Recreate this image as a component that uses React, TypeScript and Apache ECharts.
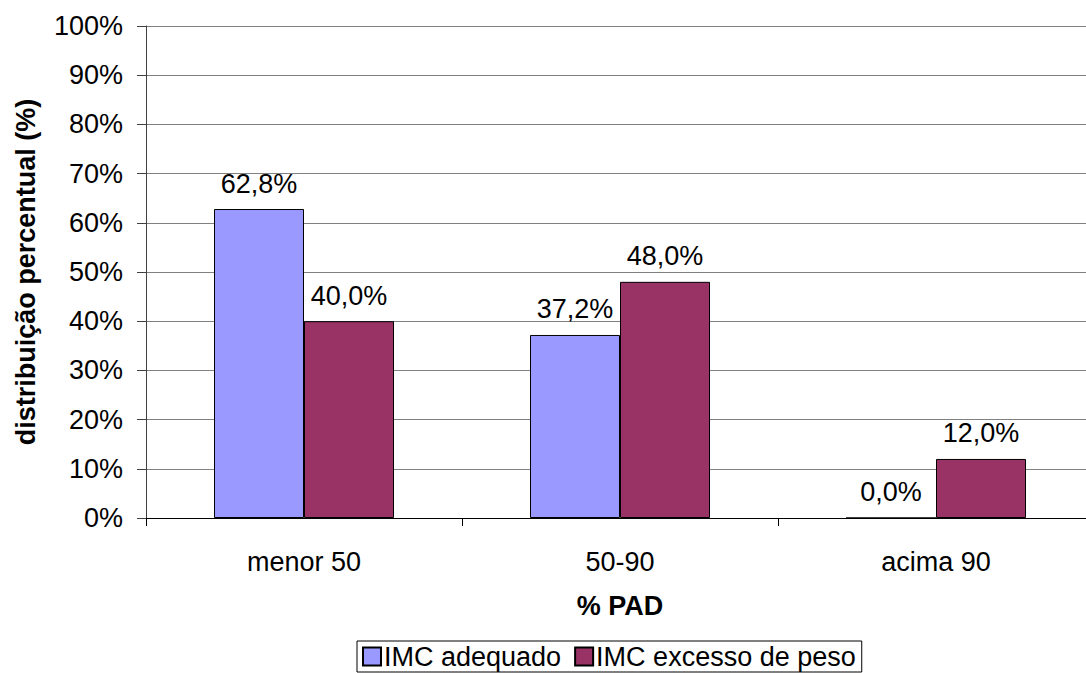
import React, { useEffect, useRef } from "react";
import * as echarts from "echarts";

const categories = ["menor 50", "50-90", "acima 90"];
const imcAdequado = [62.8, 37.2, 0.0];
const imcExcesso = [40.0, 48.0, 12.0];
const yTicks = { min: 0, max: 100, interval: 10 };
const seriesNames = ["IMC adequado", "IMC excesso de peso"];
const xTitle = "% PAD";
const yTitle = "distribuição percentual (%)";

const FONT = "Arial, 'Liberation Sans', sans-serif";

export default function App() {
  const ref = useRef<HTMLDivElement>(null);
  useEffect(() => {
    if (!ref.current) return;
    const chart = echarts.init(ref.current, undefined, { renderer: "svg" });
    const fmt = (p: any) => Number(p.value).toFixed(1).replace(".", ",") + "%";
    const label = {
      show: true,
      position: "top",
      distance: 12,
      formatter: fmt,
      fontSize: 27,
      fontFamily: FONT,
      color: "#000",
    };
    chart.setOption({
      animation: false,
      backgroundColor: "#fff",
      textStyle: { fontFamily: FONT },
      grid: { left: 146, right: 0, top: 26, bottom: 155, containLabel: false },
      legend: {
        left: 357,
        top: 641,
        padding: [2, 6, 2, 5],
        itemWidth: 18,
        itemHeight: 18,
        itemGap: 13,
        borderColor: "#000",
        borderWidth: 1,
        icon: "rect",
        textStyle: { fontSize: 27, fontFamily: FONT, color: "#000", padding: [0, 0, 0, -2] },
        data: seriesNames,
      },
      xAxis: {
        type: "category",
        data: categories,
        name: xTitle,
        nameLocation: "middle",
        nameGap: 74,
        nameTextStyle: { fontSize: 27, fontWeight: "bold", fontFamily: FONT, color: "#000" },
        axisLine: { show: true, lineStyle: { color: "#000", width: 1 } },
        axisTick: { show: true, length: 8, alignWithLabel: false, lineStyle: { color: "#000" } },
        axisLabel: { fontSize: 27, fontFamily: FONT, color: "#000", margin: 30 },
        splitLine: { show: false },
      },
      yAxis: {
        type: "value",
        min: yTicks.min,
        max: yTicks.max,
        interval: yTicks.interval,
        name: yTitle,
        nameLocation: "middle",
        nameGap: 107,
        nameRotate: 90,
        nameTextStyle: { fontSize: 27, fontWeight: "bold", fontFamily: FONT, color: "#000" },
        axisLine: { show: true, lineStyle: { color: "#404040", width: 1 } },
        axisTick: { show: true, length: 9, inside: false, lineStyle: { color: "#404040" } },
        axisLabel: { fontSize: 27, fontFamily: FONT, color: "#000", margin: 23, formatter: "{value}%" },
        splitLine: { show: true, lineStyle: { color: "#808080", width: 1 } },
      },
      series: [
        {
          name: seriesNames[0],
          type: "bar",
          data: imcAdequado,
          barWidth: 90,
          barGap: "0%",
          itemStyle: { color: "#9999FF", borderColor: "#000", borderWidth: 1 },
          label,
        },
        {
          name: seriesNames[1],
          type: "bar",
          data: imcExcesso,
          barWidth: 90,
          barGap: "0%",
          itemStyle: { color: "#993366", borderColor: "#000", borderWidth: 1 },
          label,
        },
      ],
    });
    return () => chart.dispose();
  }, []);
  return (
    <div
      style={{
        position: "absolute",
        left: 0,
        top: 0,
        width: 1086,
        height: 673,
        overflow: "hidden",
        background: "#fff",
      }}
    >
      <div ref={ref} style={{ width: 1094, height: 673 }} />
    </div>
  );
}
